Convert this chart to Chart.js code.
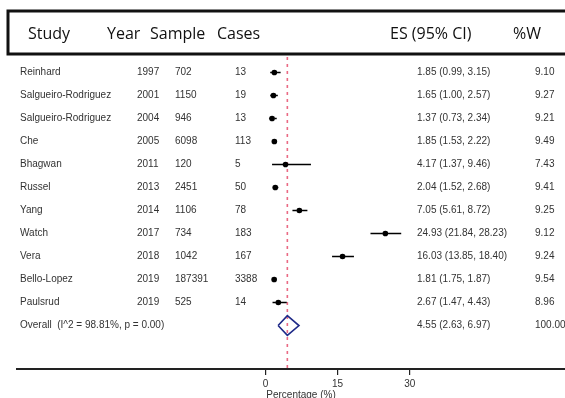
<!DOCTYPE html>
<html>
<head>
<meta charset="utf-8">
<script src="https://cdn.jsdelivr.net/npm/chart.js@4.4.0/dist/chart.umd.min.js"></script>
<style>
  body { margin: 0; background: #fff; }
</style>
</head>
<body>
<canvas id="forest" width="565" height="398"></canvas>
<script>
// study data
const studies = ['Reinhard', 'Salgueiro-Rodriguez', 'Salgueiro-Rodriguez', 'Che', 'Bhagwan', 'Russel',
                 'Yang', 'Watch', 'Vera', 'Bello-Lopez', 'Paulsrud'];
const years   = [1997, 2001, 2004, 2005, 2011, 2013, 2014, 2017, 2018, 2019, 2019];
const samples = [702, 1150, 946, 6098, 120, 2451, 1106, 734, 1042, 187391, 525];
const cases   = [13, 19, 13, 113, 5, 50, 78, 183, 167, 3388, 14];
const es      = [1.85, 1.65, 1.37, 1.85, 4.17, 2.04, 7.05, 24.93, 16.03, 1.81, 2.67];
const ciLow   = [0.99, 1.00, 0.73, 1.53, 1.37, 1.52, 5.61, 21.84, 13.85, 1.75, 1.47];
const ciHigh  = [3.15, 2.57, 2.34, 2.22, 9.46, 2.68, 8.72, 28.23, 18.40, 1.87, 4.43];
const weights = [9.10, 9.27, 9.21, 9.49, 7.43, 9.41, 9.25, 9.12, 9.24, 9.54, 8.96];

const overallLabel = 'Overall  (I^2 = 98.81%, p = 0.00)';
const overallEs = 4.55, overallLow = 2.63, overallHigh = 6.97, overallW = '100.00';

const headers = ['Study', 'Year', 'Sample', 'Cases', 'ES (95% CI)', '%W'];
const xTicks = [0, 15, 30];
const xTitle = 'Percentage (%)';

// scale ranges
const X_MIN = -51.67, X_MAX = 62.29;
const Y_MIN = -0.674, Y_MAX = 12.89;
const overallRow = studies.length;

let ciData = [];
for (let i = 0; i < studies.length; i++) {
    ciData.push({x: ciLow[i], y: i});
    ciData.push({x: ciHigh[i], y: i});
    ciData.push({x: null, y: null});
}
const pointData = es.map((v, i) => ({x: v, y: i}));
const dh = 0.43; // half height of diamond in rows
const diamond = [
    {x: overallLow, y: overallRow}, {x: overallEs, y: overallRow - dh},
    {x: overallHigh, y: overallRow}, {x: overallEs, y: overallRow + dh},
    {x: overallLow, y: overallRow}
];

const fmt = v => v.toFixed(2);

const tablePlugin = {
    id: 'table',
    afterDraw(chart) {
        const ctx = chart.ctx;
        const y = chart.scales.y;
        ctx.save();
        // header box
        ctx.strokeStyle = '#111';
        ctx.lineWidth = 3;
        ctx.strokeRect(8, 11, 570, 43);
        ctx.fillStyle = '#111';
        ctx.font = '16px "Open Sans"';
        ctx.textBaseline = 'middle';
        const hx = [28, 107, 150, 217, 390, 513];
        headers.forEach((h, i) => ctx.fillText(h, hx[i], 34));

        ctx.font = '10px "Liberation Sans", Arial';
        ctx.fillStyle = '#333';
        for (let i = 0; i < studies.length; i++) {
            const py = y.getPixelForValue(i);
            ctx.fillText(studies[i], 20, py);
            ctx.fillText(years[i], 137, py);
            ctx.fillText(samples[i], 175, py);
            ctx.fillText(cases[i], 235, py);
            ctx.fillText(fmt(es[i]) + ' (' + fmt(ciLow[i]) + ', ' + fmt(ciHigh[i]) + ')', 417, py);
            ctx.fillText(fmt(weights[i]), 535, py);
        }
        const oy = y.getPixelForValue(overallRow);
        ctx.fillText(overallLabel, 20, oy);
        ctx.fillText(fmt(overallEs) + ' (' + fmt(overallLow) + ', ' + fmt(overallHigh) + ')', 417, oy);
        ctx.fillText(overallW, 535, oy);

        ctx.textAlign = 'center';
        ctx.fillText(xTitle, 301, 395);
        ctx.restore();
    }
};

new Chart(document.getElementById('forest'), {
    type: 'scatter',
    data: {
        datasets: [
            {
                type: 'line',
                data: [{x: overallEs, y: Y_MIN}, {x: overallEs, y: Y_MAX}],
                borderColor: '#ea6a84',
                borderWidth: 1.6,
                borderDash: [3, 4],
                pointRadius: 0,
                order: 5
            },
            {
                type: 'line',
                data: ciData,
                borderColor: '#000',
                borderWidth: 1.6,
                pointRadius: 0,
                spanGaps: false,
                order: 4
            },
            {
                data: pointData,
                pointStyle: 'rect',
                pointRadius: weights.map(w => w * 0.38),
                backgroundColor: '#c8c8c8',
                borderWidth: 0,
                order: 3
            },
            {
                data: pointData,
                pointStyle: 'circle',
                pointRadius: 2.8,
                backgroundColor: '#000',
                borderWidth: 0,
                order: 2
            },
            {
                type: 'line',
                data: diamond,
                borderColor: '#1f2a88',
                borderWidth: 1.6,
                pointRadius: 0,
                tension: 0,
                order: 1
            }
        ]
    },
    options: {
        responsive: false,
        animation: false,
        layout: { autoPadding: false, padding: { top: 57, left: 17, right: 0, bottom: 0 } },
        plugins: { legend: { display: false }, tooltip: { enabled: false } },
        scales: {
            x: {
                type: 'linear',
                min: X_MIN,
                max: X_MAX,
                afterBuildTicks: s => { s.ticks = xTicks.map(v => ({value: v})); },
                afterFit: s => { s.height = 29; },
                grid: { drawOnChartArea: false, drawTicks: true, tickLength: 6, color: '#222', lineWidth: 1.2 },
                border: { display: true, color: '#222', width: 2 },
                ticks: { color: '#333', padding: 3, font: { family: '"Liberation Sans", Arial', size: 10 } }
            },
            y: {
                type: 'linear',
                display: false,
                reverse: true,
                min: Y_MIN,
                max: Y_MAX
            }
        }
    },
    plugins: [tablePlugin]
});
</script>
</body>
</html>
